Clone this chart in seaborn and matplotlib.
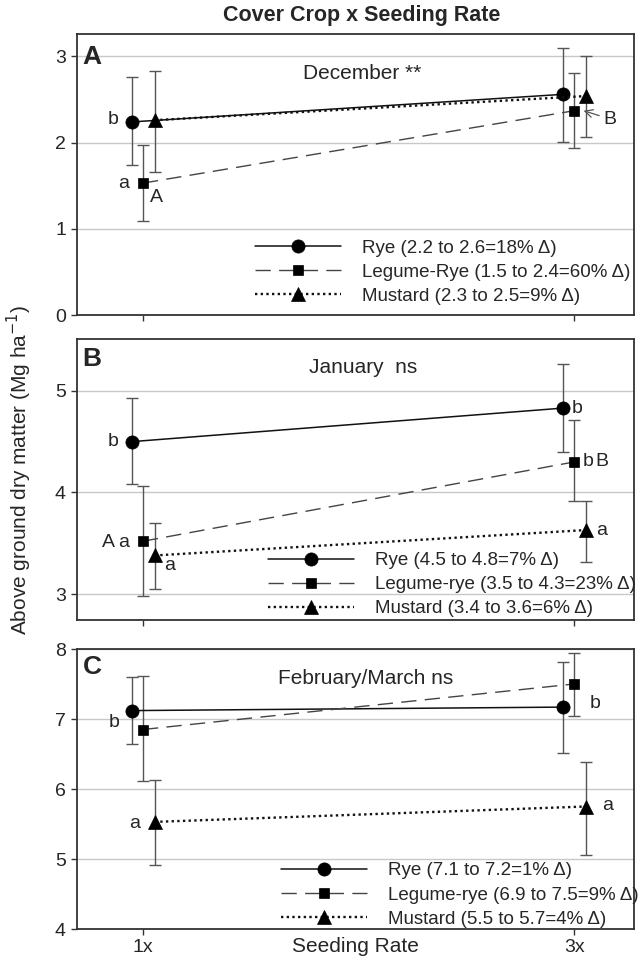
import numpy as np
import matplotlib
matplotlib.use("Agg")
import matplotlib.pyplot as plt
import seaborn as sns

# ---------------- data ----------------
rates = ["1x", "3x"]
crops = ["Rye", "Legume-Rye", "Mustard"]
panel_letters = ["A", "B", "C"]
panel_titles = ["December **", "January  ns", "February/March ns"]

# December (rows: Rye, Legume-Rye, Mustard; cols: 1x, 3x)
dec_mean = [[2.24, 2.56], [1.53, 2.37], [2.26, 2.54]]
dec_lo = [[1.74, 2.01], [1.09, 1.94], [1.66, 2.07]]
dec_hi = [[2.76, 3.10], [1.97, 2.81], [2.83, 3.00]]
dec_labels = ["Rye (2.2 to 2.6=18% \u0394)",
              "Legume-Rye (1.5 to 2.4=60% \u0394)",
              "Mustard (2.3 to 2.5=9% \u0394)"]

# January
jan_mean = [[4.50, 4.83], [3.52, 4.30], [3.38, 3.63]]
jan_lo = [[4.08, 4.40], [2.98, 3.92], [3.05, 3.32]]
jan_hi = [[4.93, 5.26], [4.06, 4.71], [3.70, 3.92]]
jan_labels = ["Rye (4.5 to 4.8=7% \u0394)",
              "Legume-rye (3.5 to 4.3=23% \u0394)",
              "Mustard (3.4 to 3.6=6% \u0394)"]

# February/March
feb_mean = [[7.12, 7.17], [6.85, 7.50], [5.53, 5.75]]
feb_lo = [[6.64, 6.52], [6.12, 7.04], [4.91, 5.06]]
feb_hi = [[7.60, 7.81], [7.61, 7.95], [6.13, 6.39]]
feb_labels = ["Rye (7.1 to 7.2=1% \u0394)",
              "Legume-rye (6.9 to 7.5=9% \u0394)",
              "Mustard (5.5 to 5.7=4% \u0394)"]

# mean-separation letters: (text, rate index, crop index)
dec_letters = [("b", 0, 0), ("a", 0, 1), ("A", 0, 1), ("B", 1, 1)]
jan_letters = [("b", 0, 0), ("b", 1, 0), ("b", 1, 1), ("B", 1, 1),
               ("A", 0, 1), ("a", 0, 1), ("a", 0, 2), ("a", 1, 2)]
feb_letters = [("b", 0, 0), ("b", 1, 1), ("a", 0, 2), ("a", 1, 2)]

# ---------------- style ----------------
sns.set_style("ticks")
plt.rcParams["font.family"] = ["Liberation Sans", "DejaVu Sans"]

W, H = 638, 961
fig = plt.figure(figsize=(W / 100, H / 100), dpi=100)

def rect(l, t, r, b):
    return [l / W, 1 - b / H, (r - l) / W, (b - t) / H]

ax_rects = [rect(77, 34, 634, 315), rect(77, 339, 634, 620), rect(77, 649, 634, 929)]
ylims = [(0, 3.26), (2.745, 5.51), (4, 8)]
yticks = [[0, 1, 2, 3], [3, 4, 5], [4, 5, 6, 7, 8]]
legend_anchor = [(0.320, 0.268), (0.343, 0.242), (0.366, 0.238)]
title_pos = [(0.511, 0.861), (0.514, 0.897), (0.518, 0.893)]
letter_y = [0.918, 0.929, 0.934]

offsets = [-0.026, 0.0, 0.027]
line_colors = ["#111111", "#444444", "#111111"]
line_styles = ["-", (0, (11, 6)), (0, (1, 1.4))]
line_widths = [1.1, 1.0, 1.7]
markers = ["o", "s", "^"]
marker_sizes = [9.5, 7.5, 9.5]

# letter offsets (data-x units / fraction of y-range) relative to the point
letter_offsets = {
    0: {("b", 0, 0): (-0.044, 0.01), ("a", 0, 1): (-0.044, 0.0),
        ("A", 0, 1): (0.032, -0.05), ("B", 1, 1): (0.084, -0.03)},
    1: {("b", 0, 0): (-0.044, 0.0), ("b", 1, 0): (0.033, 0.0),
        ("b", 1, 1): (0.032, 0.0), ("B", 1, 1): (0.065, 0.0),
        ("A", 0, 1): (-0.081, -0.005), ("a", 0, 1): (-0.044, -0.005),
        ("a", 0, 2): (0.036, -0.035), ("a", 1, 2): (0.037, 0.0)},
    2: {("b", 0, 0): (-0.040, -0.043), ("b", 1, 1): (0.049, -0.068),
        ("a", 0, 2): (-0.046, -0.005), ("a", 1, 2): (0.050, 0.003)},
}

panels = [
    (dec_mean, dec_lo, dec_hi, dec_labels, dec_letters),
    (jan_mean, jan_lo, jan_hi, jan_labels, jan_letters),
    (feb_mean, feb_lo, feb_hi, feb_labels, feb_letters),
]

for p, (means, los, his, labels, letters) in enumerate(panels):
    ax = fig.add_axes(ax_rects[p])
    handles = []
    for j, crop in enumerate(crops):
        xs = np.arange(len(rates)) + offsets[j]
        m = np.array(means[j])
        lo = np.array(los[j])
        hi = np.array(his[j])
        ax.errorbar(xs, m, yerr=[m - lo, hi - m], fmt="none", ecolor="#555555",
                    elinewidth=1.0, capsize=4, capthick=1.0, zorder=2)
        sns.lineplot(x=xs, y=m, ax=ax, color=line_colors[j],
                     linestyle=line_styles[j], linewidth=line_widths[j],
                     marker=markers[j], markersize=marker_sizes[j],
                     markerfacecolor="black", markeredgecolor="black",
                     markeredgewidth=0.5, zorder=3, legend=False)
        handles.append(ax.lines[-1])

    ax.set_xlim(-0.153, 1.139)
    ax.set_ylim(*ylims[p])
    ax.set_yticks(yticks[p])
    ax.set_xticks(range(len(rates)))
    if p == 2:
        ax.set_xticklabels(rates)
    else:
        ax.set_xticklabels([])
    ax.yaxis.grid(True, color="#c8c8c8", linewidth=1.0)
    ax.xaxis.grid(False)
    ax.set_axisbelow(True)
    for s in ax.spines.values():
        s.set_visible(True)
        s.set_color("#333333")
        s.set_linewidth(1.3)
    ax.tick_params(axis="both", labelsize=14, length=4, width=1.0,
                   color="#333333", pad=4, direction="out")
    ax.tick_params(axis="x", pad=3.5)
    ax.set_xlabel("")
    ax.set_ylabel("")

    ax.legend(handles, labels, loc="upper left",
              bbox_to_anchor=legend_anchor[p], frameon=False,
              fontsize=13.5, handlelength=4.6, handletextpad=1.1,
              labelspacing=0.37, borderpad=0, borderaxespad=0,
              numpoints=1)

    ax.text(0.010, letter_y[p], panel_letters[p], transform=ax.transAxes,
            fontsize=19, fontweight="bold", ha="left", va="center")
    ax.text(title_pos[p][0], title_pos[p][1], panel_titles[p],
            transform=ax.transAxes, fontsize=15, ha="center", va="center")

    yr = ylims[p][1] - ylims[p][0]
    for (txt, ri, ci) in letters:
        dx, dy = letter_offsets[p][(txt, ri, ci)]
        x0 = ri + offsets[ci]
        y0 = means[ci][ri]
        if p == 0 and txt == "B":
            ax.annotate(txt, xy=(x0 + 0.022, y0), xytext=(x0 + dx, y0 + dy * yr),
                        fontsize=14, ha="center", va="center",
                        arrowprops=dict(arrowstyle="->", color="#555555", lw=0.9,
                                        shrinkA=1, shrinkB=0))
        else:
            ax.text(x0 + dx, y0 + dy * yr, txt, fontsize=14, ha="center", va="center")

    if p == 2:
        ax.set_xlabel("Seeding Rate", fontsize=15)
        ax.xaxis.set_label_coords(0.5, -0.028)
        ax.xaxis.label.set_va("top")

fig.text(362 / W, 1 - 15 / H, "Cover Crop x Seeding Rate", fontsize=15.5,
         fontweight="bold", ha="center", va="center")
fig.text(19 / W, 1 - 470 / H, "Above ground dry matter (Mg ha$^{-1}$)",
         fontsize=15, rotation=90, ha="center", va="center")

fig.savefig("out.png", dpi=100)
